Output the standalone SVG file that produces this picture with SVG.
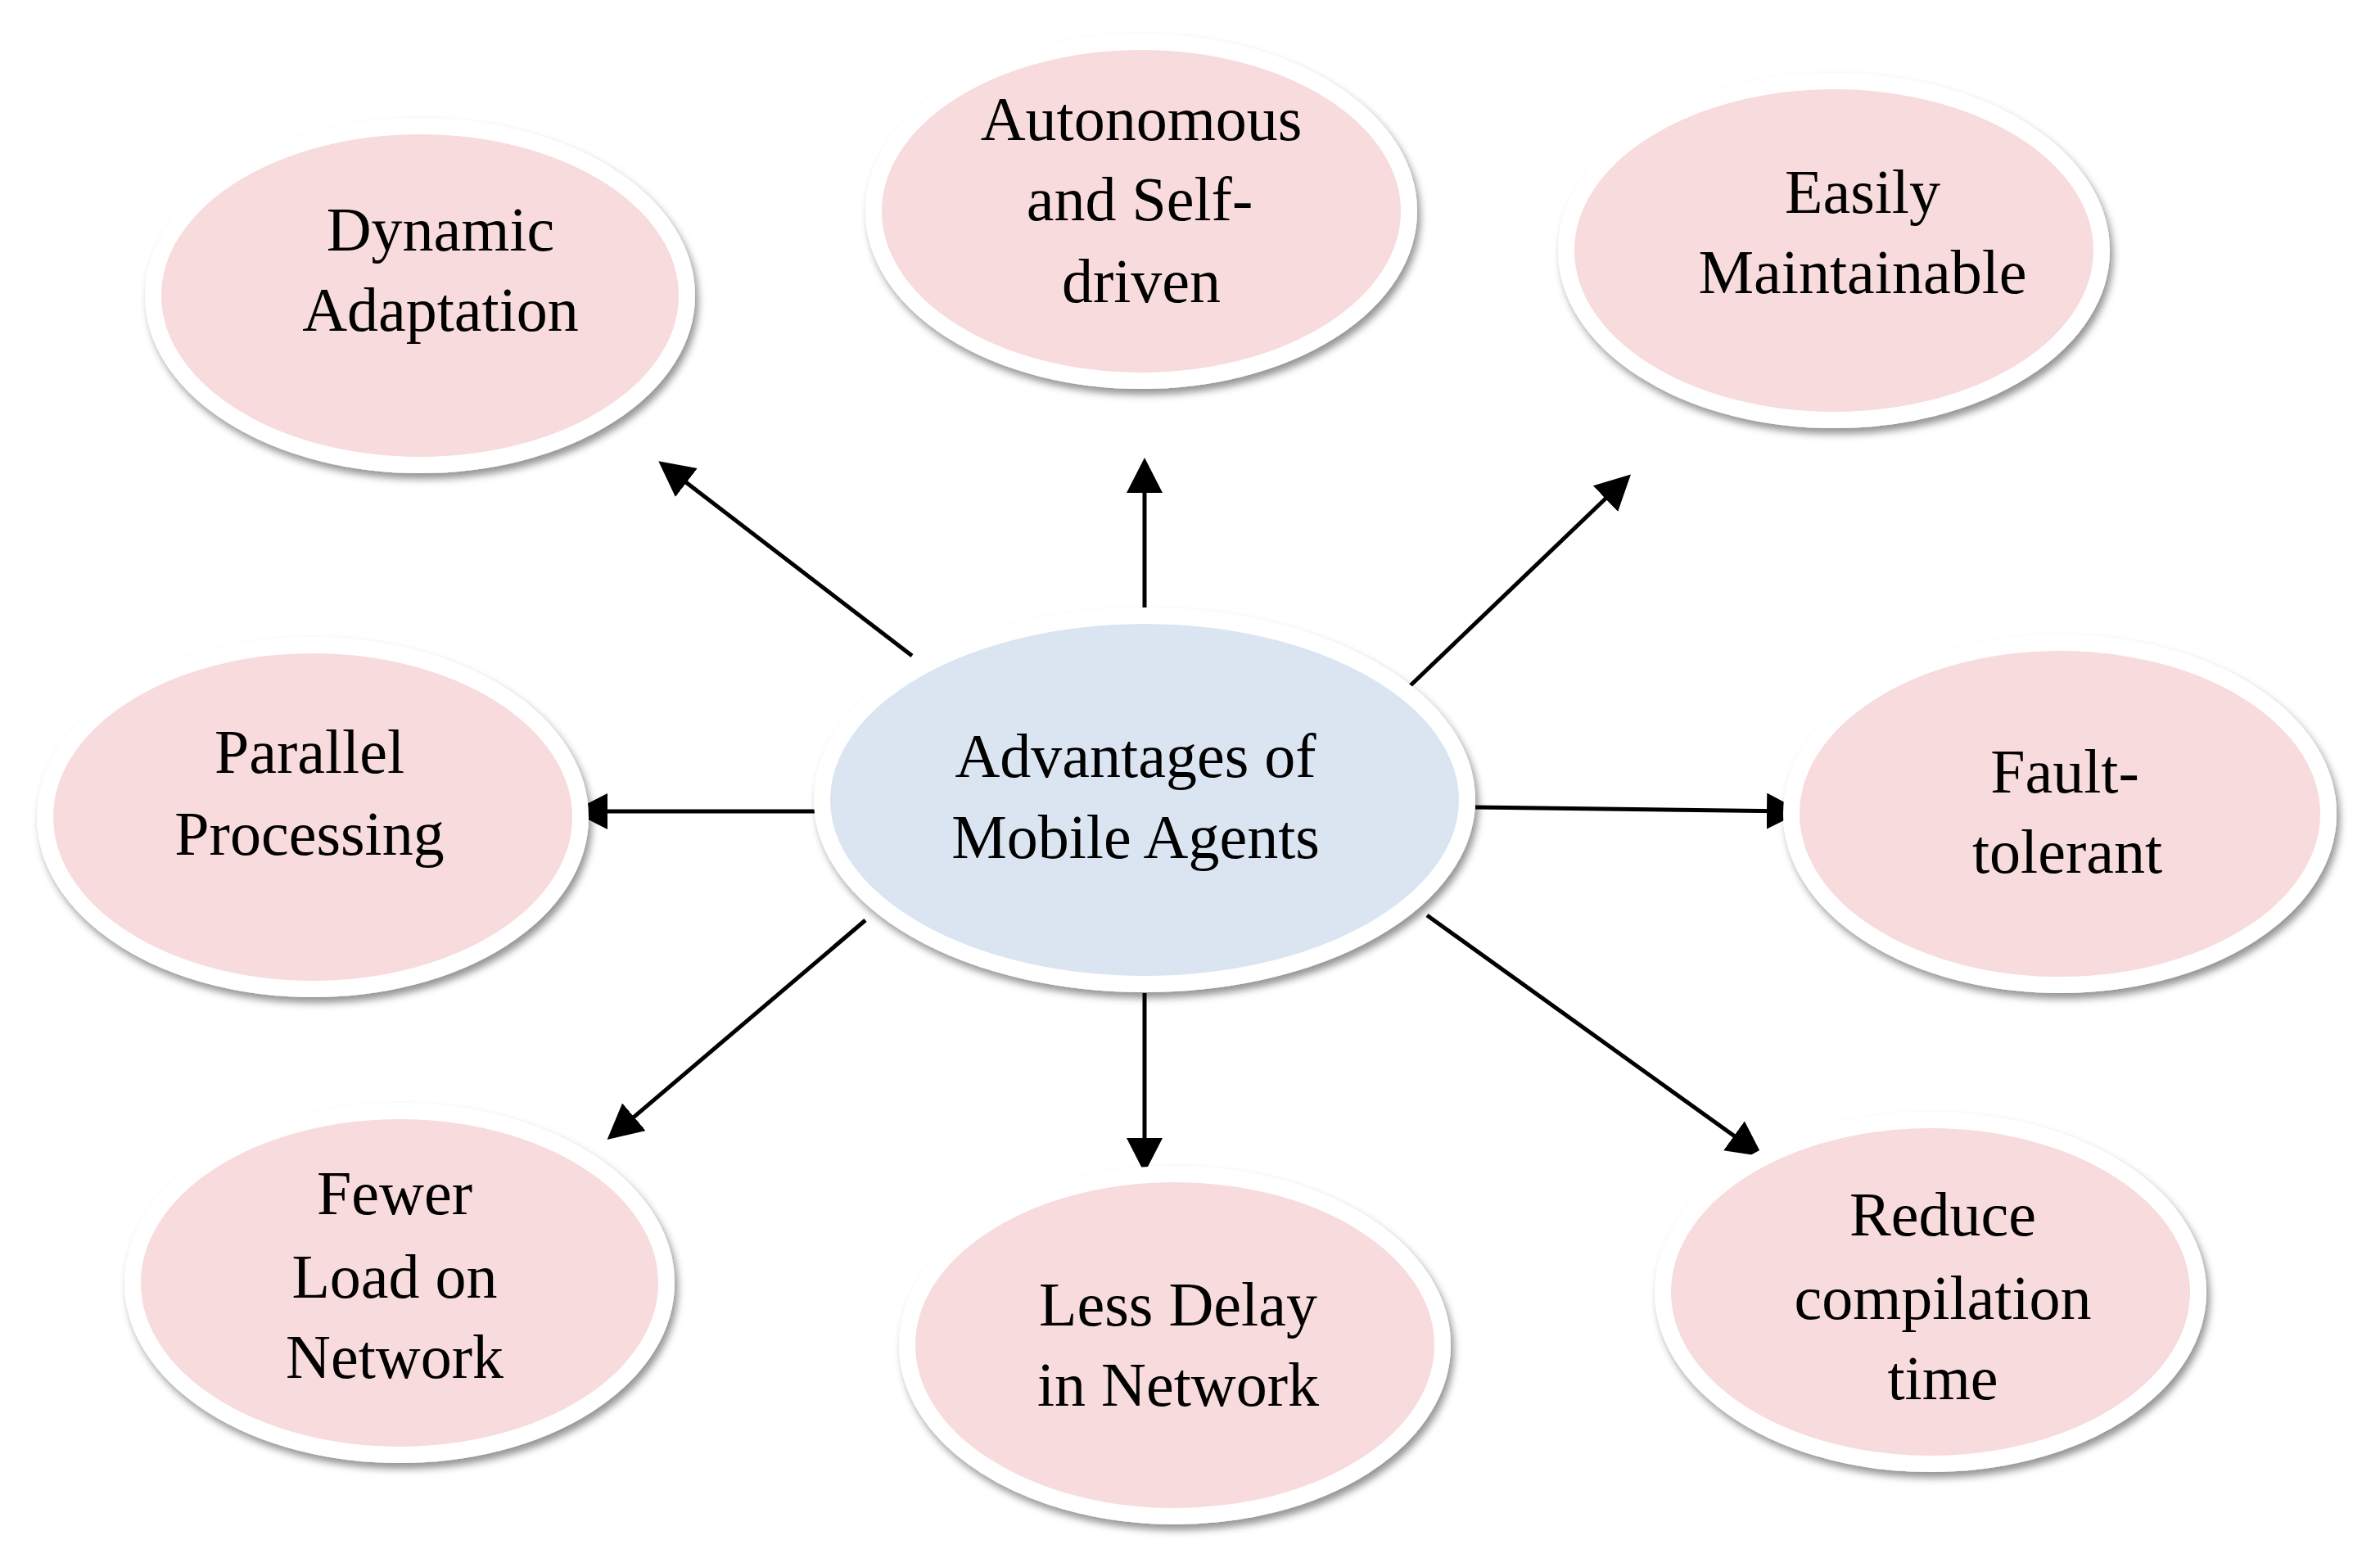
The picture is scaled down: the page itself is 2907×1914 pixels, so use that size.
<svg xmlns="http://www.w3.org/2000/svg" width="2907" height="1914" viewBox="0 0 2907 1914">
  <defs>
    <filter id="shadow" x="-10%" y="-10%" width="125%" height="130%">
      <feGaussianBlur in="SourceAlpha" stdDeviation="5" result="b"/>
      <feOffset in="b" dx="4" dy="7" result="o"/>
      <feFlood flood-color="#000" flood-opacity="0.42"/>
      <feComposite in2="o" operator="in" result="s"/>
      <feMerge><feMergeNode in="s"/><feMergeNode in="SourceGraphic"/></feMerge>
    </filter>
    <marker id="arrow" markerUnits="userSpaceOnUse" markerWidth="48" markerHeight="48" refX="32" refY="22" orient="auto">
      <path d="M0,0 L43,22 L0,44 z" fill="#000"/>
    </marker>
  </defs>
  <style>
    .node { stroke: #ffffff; stroke-width: 20; filter: url(#shadow); }
    .pink { fill: #F8DBDC; }
    .blue { fill: #DAE5F1; }
    .label { font-family: "Liberation Serif", "Times New Roman", serif; font-size: 76px; fill: #000; text-anchor: middle; }
    .conn { stroke: #000; stroke-width: 5; fill: none; marker-end: url(#arrow); }
  </style>
  <rect width="2907" height="1914" fill="#ffffff"/>

  <g id="connectors">
    <line class="conn" x1="1114" y1="801" x2="813" y2="570"/>
    <line class="conn" x1="1398" y1="742" x2="1398" y2="570"/>
    <line class="conn" x1="1722" y1="838" x2="1984" y2="587"/>
    <line class="conn" x1="1001" y1="991" x2="710" y2="991"/>
    <line class="conn" x1="1802" y1="986" x2="2190" y2="991"/>
    <line class="conn" x1="1057" y1="1124" x2="750" y2="1385"/>
    <line class="conn" x1="1398" y1="1213" x2="1398" y2="1422"/>
    <line class="conn" x1="1743" y1="1118" x2="2144" y2="1406"/>
  </g>

  <g id="node-center">
    <ellipse class="node blue" cx="1398" cy="977" rx="394" ry="225"/>
    <text class="label" x="1387" y="949">Advantages of</text>
    <text class="label" x="1387" y="1048">Mobile Agents</text>
  </g>

  <g id="node-dynamic">
    <ellipse class="node pink" cx="513" cy="361" rx="326" ry="207"/>
    <text class="label" x="538" y="306">Dynamic</text>
    <text class="label" x="538" y="404">Adaptation</text>
  </g>

  <g id="node-autonomous">
    <ellipse class="node pink" cx="1394" cy="258" rx="327" ry="207"/>
    <text class="label" x="1394" y="171">Autonomous</text>
    <text class="label" x="1392" y="269">and Self-</text>
    <text class="label" x="1394" y="369">driven</text>
  </g>

  <g id="node-easily">
    <ellipse class="node pink" cx="2240" cy="306" rx="327" ry="207"/>
    <text class="label" x="2275" y="260">Easily</text>
    <text class="label" x="2275" y="358">Maintainable</text>
  </g>

  <g id="node-parallel">
    <ellipse class="node pink" cx="382" cy="998" rx="327" ry="210"/>
    <text class="label" x="378" y="944">Parallel</text>
    <text class="label" x="378" y="1044">Processing</text>
  </g>

  <g id="node-fault">
    <ellipse class="node pink" cx="2516" cy="994" rx="328" ry="209"/>
    <text class="label" x="2522" y="968">Fault-</text>
    <text class="label" x="2525" y="1066">tolerant</text>
  </g>

  <g id="node-fewer">
    <ellipse class="node pink" cx="488" cy="1567" rx="326" ry="210"/>
    <text class="label" x="482" y="1483">Fewer</text>
    <text class="label" x="482" y="1585">Load on</text>
    <text class="label" x="482" y="1683">Network</text>
  </g>

  <g id="node-less">
    <ellipse class="node pink" cx="1435" cy="1643" rx="327" ry="209"/>
    <text class="label" x="1439" y="1619">Less Delay</text>
    <text class="label" x="1439" y="1717">in Network</text>
  </g>

  <g id="node-reduce">
    <ellipse class="node pink" cx="2358" cy="1578" rx="327" ry="210"/>
    <text class="label" x="2373" y="1509">Reduce</text>
    <text class="label" x="2373" y="1611">compilation</text>
    <text class="label" x="2373" y="1709">time</text>
  </g>
</svg>
